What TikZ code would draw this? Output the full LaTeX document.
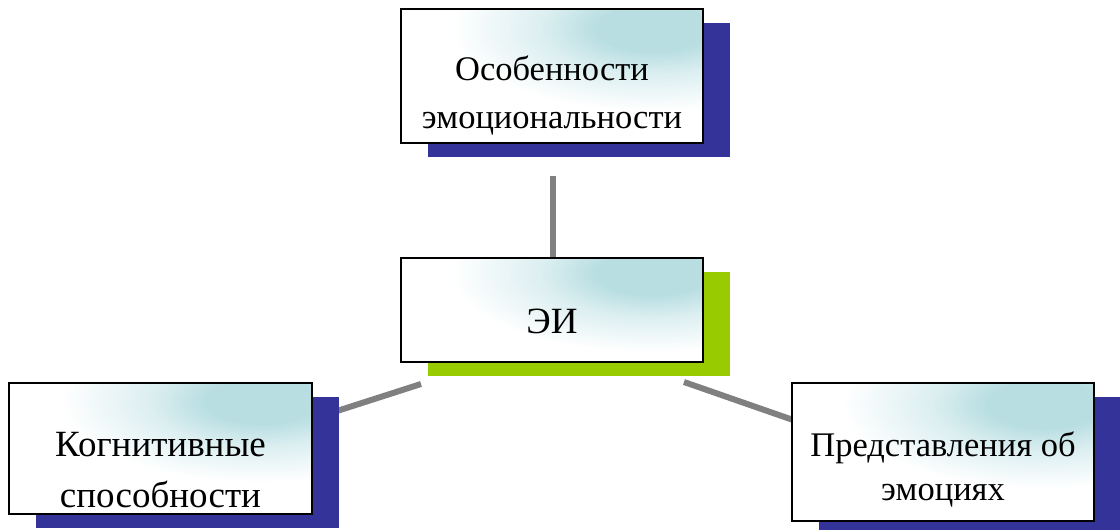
\documentclass[tikz,border=0pt]{standalone}
\usepackage{fontspec}
\setmainfont{Liberation Serif}
\usetikzlibrary{shadows,backgrounds}

\definecolor{boxteal}{RGB}{184,222,226}
\definecolor{shadeblue}{RGB}{51,51,153}
\definecolor{shadegreen}{RGB}{153,204,0}
\definecolor{linkgray}{RGB}{128,128,128}

% light glow for the upper right corner of every box
\pgfdeclareradialshading{boxglow}{\pgfpointorigin}{%
  color(0bp)=(boxteal); color(5bp)=(boxteal); color(10bp)=(boxteal!50!white); color(18bp)=(white); color(50bp)=(white)}

\begin{document}
\begin{tikzpicture}[x=1pt,y=-1pt,
    box/.style={rectangle, draw=black, line width=2pt, minimum width=302pt, fill=white,
      path picture={\shade[shading=boxglow] ([xshift=-50pt,yshift=-15pt]path picture bounding box.north east)
        ellipse [x radius=280pt, y radius=110pt];},
      align=center, text depth=0pt},
    blueshadow/.style={general shadow={fill=shadeblue, shadow xshift=27pt, shadow yshift=-14pt}},
    greenshadow/.style={general shadow={fill=shadegreen, shadow xshift=27pt, shadow yshift=-14pt}},
    link/.style={draw=linkgray, line width=6pt}]
  \useasboundingbox (0,0) rectangle (1120,530);

  % the four boxes
  \node[box, blueshadow, minimum height=134pt, text height=104pt,
    font=\fontsize{34.5}{48}\selectfont] (osob) at (552,76) {Особенности\\эмоциональности};
  \node[box, greenshadow, minimum height=104pt, text height=46pt,
    font=\fontsize{37}{49}\selectfont] (ei) at (552,310) {ЭИ};
  \node[box, blueshadow, minimum width=303pt, minimum height=131pt, text height=117pt,
    font=\fontsize{37}{51}\selectfont] (kog) at (160.5,448.5) {Когнитивные\\способности};
  \node[box, blueshadow, minimum height=138pt, text height=96pt,
    font=\fontsize{34.5}{44}\selectfont] (pred) at (943,452) {Представления об\\эмоциях};

  % connectors behind the boxes
  \begin{scope}[on background layer]
    \draw[link] ([shift={(1,32)}]osob.south) -- ([xshift=1pt]ei.center);
    \draw[link] ([shift={(-4,38)}]kog.north east) -- ([shift={(21,21)}]ei.south west);
    \draw[link] ([shift={(-20,19)}]ei.south east) -- ([shift={(28,-23)}]pred.west);
  \end{scope}
\end{tikzpicture}
\end{document}
